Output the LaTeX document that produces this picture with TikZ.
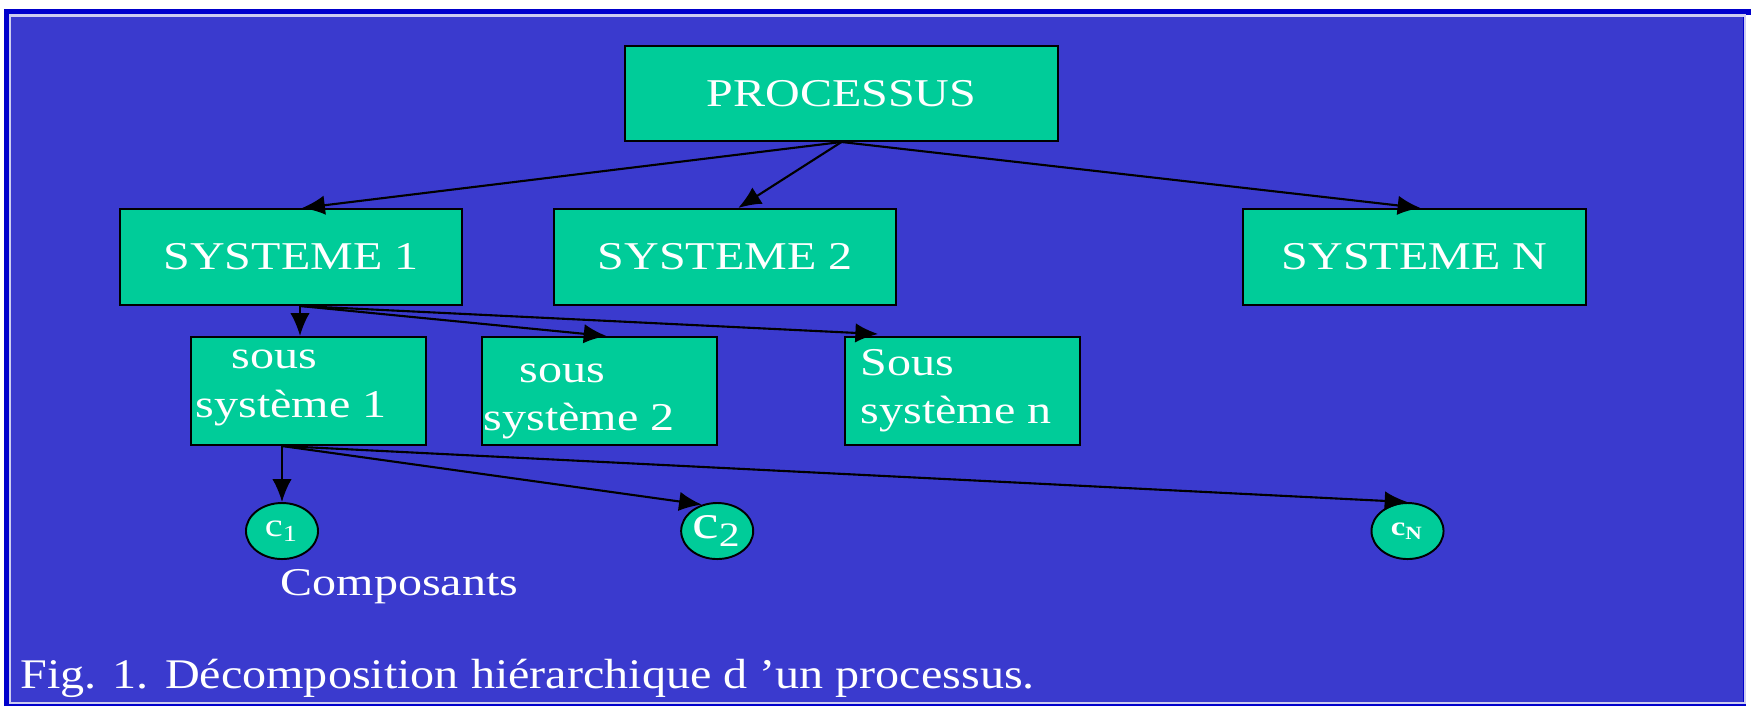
\documentclass[tikz,border=0pt]{standalone}
\usepackage{fontspec}
\setmainfont{Liberation Serif}
\usepackage{graphicx}
\usepackage{tikz}
\usetikzlibrary{
  arrows.meta,
  calc,
  positioning,
  shapes.geometric,
}
\definecolor{fond}{RGB}{58, 58, 206}
\definecolor{bordure}{RGB}{0, 0, 204}
\definecolor{liseret}{RGB}{205, 205, 240}
\definecolor{vert}{RGB}{0, 204, 153}
\newcommand{\corps}{\fontsize{11.2}{13}\selectfont}
\newcommand{\legende}{\fontsize{12}{14}\selectfont}
\newcommand{\etirer}[1]{\scalebox{1.22}[1]{#1}}
\tikzset{
  bloc/.style={rectangle, draw=black, line width=0.55pt, fill=vert, text=white, font=\corps, inner sep=0pt},
  syst/.style={minimum width=3.42cm, minimum height=0.96cm},
  soussyst/.style={minimum width=2.35cm, minimum height=1.08cm},
  composant/.style={ellipse, draw=black, line width=0.55pt, fill=vert, text=white, inner sep=0pt, minimum width=0.72cm, minimum height=0.56cm},
  texte/.style={text=white, font=\corps, inner sep=0pt, anchor=base west},
  fleche/.style={-{Latex[length=6.5pt,width=5.5pt]}, line width=0.6pt, black},
}

\begin{document}
\begin{tikzpicture}[x=0.01cm, y=-0.01cm, node distance=3mm and 9mm]

        % cadre
        \useasboundingbox (0,0) rectangle (1751,706);
        \fill[white] (0,0) rectangle (1751,706);
        \fill[bordure] (4,9) rectangle (1746,706);
        \fill[bordure] (1746,9) rectangle (1751,15);
        \draw[liseret, line width=0.02cm] (10,15.5) rectangle (1744.5,703);
        \fill[fond] (11,17) rectangle (1743,702);

        \node[bloc, minimum width=4.33cm, minimum height=0.95cm] (proc) at (841.5,93.5) {\etirer{PROCESSUS}};

        \node[bloc, syst] (sys1) at (291,257) {\etirer{SYSTEME 1}};
        \node[bloc, syst] (sys2) [right=0.9cm of sys1] {\etirer{SYSTEME 2}};
        \node[bloc, syst] (sysN) [right=3.45cm of sys2] {\etirer{SYSTEME N}};

        \node[bloc, soussyst, below=0.3cm of sys1, xshift=0.175cm] (ss1) {};
        \node[bloc, soussyst] (ss2) [right=0.54cm of ss1] {};
        \node[bloc, soussyst] (ssn) [right=1.26cm of ss2] {};

        \node[texte] (ss1a) at (231,368) {\etirer{sous}};
        \node[texte] (ss1b) at (195,417) {\etirer{système 1}};
        \node[texte] (ss2a) at (519,382) {\etirer{sous}};
        \node[texte] (ss2b) at (483,430) {\etirer{système 2}};
        \node[texte] (ssna) at (860,375) {\etirer{Sous}};
        \node[texte] (ssnb) at (860,423) {\etirer{système n}};

        \node[composant, below=0.56cm of ss1, xshift=-0.265cm, font=\fontsize{9.4}{10}\selectfont] (c1) {\etirer{c\textsubscript{1}}};
        \node[composant, font=\fontsize{13.9}{15}\selectfont] (c2) [right=3.61cm of c1] {\etirer{c\textsubscript{2}}};
        \node[composant, font=\fontsize{7.6}{9}\selectfont\bfseries] (cN) [right=6.16cm of c2] {\etirer{c\textsubscript{N}}};

        \node[texte] (compo) at (280,595) {\etirer{Composants}};
        \node[texte, font=\legende] (fig) at (20,688) {\scalebox{1.14}[1]{Fig. 1. Décomposition hiérarchique d ’un processus.}};

        % fleches
        \draw[fleche] (proc.south) -- ($(sys1.north)+(11,0)$);
        \draw[fleche] (proc.south) -- ($(sys2.north)+(13,0)$);
        \draw[fleche] (proc.south) -- ($(sysN.north)+(6,0)$);

        \coordinate (s1out) at ($(sys1.south)+(9,0)$);
        \draw[fleche] (s1out) -- (s1out |- ss1.north);
        \draw[fleche] (s1out) -- ($(ss2.north)+(7,0)$);
        \draw[fleche] (s1out) -- ($(ssn.north west)+(34,-2)$);

        \coordinate (ss1out) at (c1 |- ss1.south);
        \draw[fleche] (ss1out) -- (c1.north);
        \draw[fleche] (ss1out) -- (c2.120);
        \draw[fleche] (ss1out) -- (cN.north);

      \end{tikzpicture}
\end{document}
